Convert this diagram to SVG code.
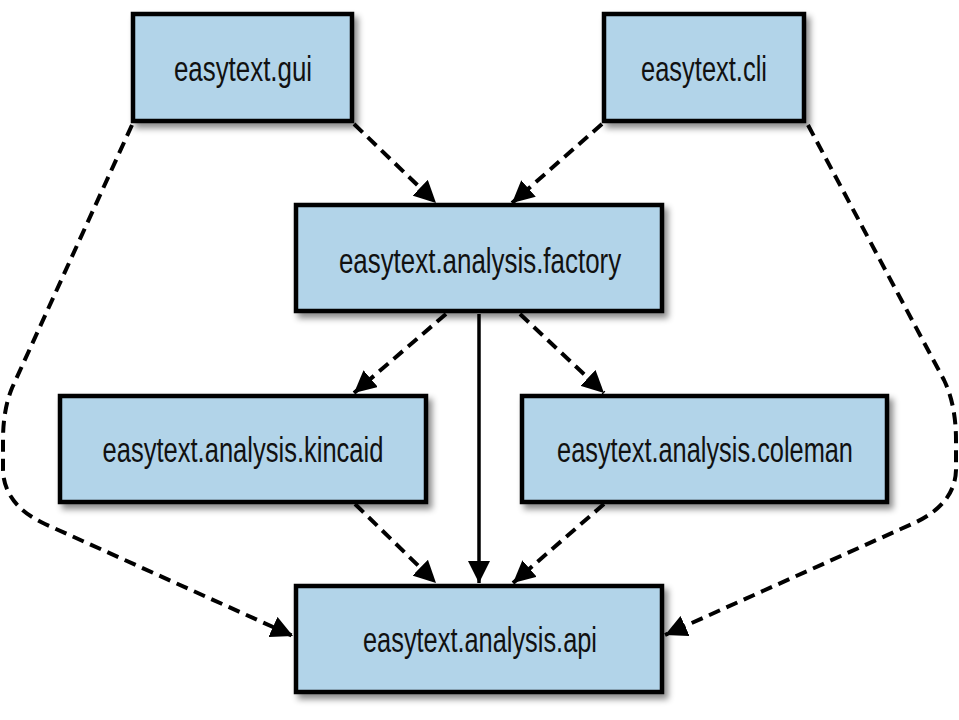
<svg xmlns="http://www.w3.org/2000/svg" width="959" height="720" viewBox="0 0 959 720">
<style>
.box{fill:#b2d4e9;stroke:#000;stroke-width:4.5;filter:url(#sh)}
.lbl{font-family:"Liberation Sans",Arial,sans-serif;font-size:36px;fill:#111;text-anchor:middle}
.dash{fill:none;stroke:#000;stroke-width:4;stroke-dasharray:12 7;marker-end:url(#ah)}
.solid{fill:none;stroke:#000;stroke-width:3.5;marker-end:url(#ah)}
</style>
<defs>
<filter id="sh" x="-10%" y="-10%" width="130%" height="140%">
<feDropShadow dx="4" dy="5" stdDeviation="3" flood-color="#000" flood-opacity="0.45"/>
</filter>
<marker id="ah" markerUnits="userSpaceOnUse" markerWidth="22" markerHeight="22" viewBox="0 0 20 20" refX="20" refY="10" orient="auto">
<path d="M0,0 L20,10 L0,20 z" fill="#000"/>
</marker>
</defs>
<rect width="959" height="720" fill="#fff"/>
<g id="connectors">
<path class="dash" d="M354,124 L436,203"/>
<path class="dash" d="M602,124 L512,203"/>
<path class="dash" d="M446,314 L354,393"/>
<path class="dash" d="M520,314 L604,393"/>
<path class="solid" d="M479,314 L479,583"/>
<path class="dash" d="M355,504 L436,583"/>
<path class="dash" d="M604,504 L513,583"/>
<path class="dash" d="M132,125 L12,388 Q3,410 3,440 L3,470 Q4,505 45,524 L293,636"/>
<path class="dash" d="M808,125 L944,380 Q956,405 956,440 L956,470 Q955,505 912,524 L665,635"/>
</g>
<g id="gui"><rect class="box" x="133" y="14" width="219" height="107"/><text class="lbl" transform="translate(243,81) scale(0.72,1)" textLength="192" lengthAdjust="spacingAndGlyphs">easytext.gui</text></g>
<g id="cli"><rect class="box" x="604" y="14" width="200" height="107"/><text class="lbl" transform="translate(704,81) scale(0.72,1)" textLength="175" lengthAdjust="spacingAndGlyphs">easytext.cli</text></g>
<g id="factory"><rect class="box" x="296" y="205" width="366" height="106"/><text class="lbl" transform="translate(480,273) scale(0.72,1)" textLength="392" lengthAdjust="spacingAndGlyphs">easytext.analysis.factory</text></g>
<g id="kincaid"><rect class="box" x="60" y="396" width="366" height="106"/><text class="lbl" transform="translate(243,462) scale(0.72,1)" textLength="390" lengthAdjust="spacingAndGlyphs">easytext.analysis.kincaid</text></g>
<g id="coleman"><rect class="box" x="522" y="396" width="365" height="106"/><text class="lbl" transform="translate(705,462) scale(0.72,1)" textLength="411" lengthAdjust="spacingAndGlyphs">easytext.analysis.coleman</text></g>
<g id="api"><rect class="box" x="296" y="586" width="366" height="106"/><text class="lbl" transform="translate(480,652) scale(0.72,1)" textLength="325" lengthAdjust="spacingAndGlyphs">easytext.analysis.api</text></g>
</svg>
